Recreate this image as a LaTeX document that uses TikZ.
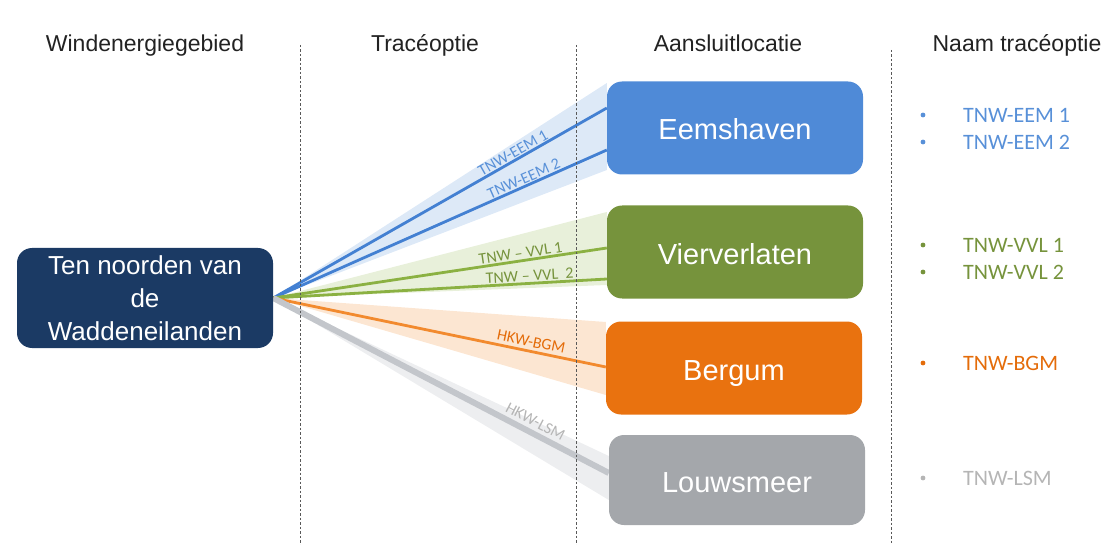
\documentclass[tikz,border=0pt]{standalone}
\usepackage{fontspec}
\setmainfont{Liberation Sans}
\newfontfamily\carl{Carlito}
\usetikzlibrary{calc,backgrounds}
\definecolor{navy}{HTML}{1B3A64}
\definecolor{eembox}{HTML}{4F8AD7}
\definecolor{eemline}{HTML}{4380D2}
\definecolor{eemtext}{HTML}{5890D8}
\definecolor{eemband}{HTML}{DDE9F7}
\definecolor{vvlbox}{HTML}{76933C}
\definecolor{vvlline}{HTML}{8BB142}
\definecolor{vvltext}{HTML}{76933C}
\definecolor{vvlband}{HTML}{E8F0DA}
\definecolor{bgmbox}{HTML}{E9720F}
\definecolor{bgmline}{HTML}{F28A2E}
\definecolor{bgmtext}{HTML}{E46C0A}
\definecolor{bgmband}{HTML}{FCE6D2}
\definecolor{lsmbox}{HTML}{A4A7AB}
\definecolor{lsmline}{HTML}{C3C6CB}
\definecolor{lsmtext}{HTML}{B5B5B5}
\definecolor{lsmband}{HTML}{EDEEF0}
\definecolor{hdrtext}{HTML}{222222}
\begin{document}
\begin{tikzpicture}[x=1pt,y=-1pt,
  box/.style={rounded corners=15pt, minimum width=256pt, minimum height=93pt,
    text=white, font=\fontsize{29}{34}\selectfont, text height=24pt,
    text depth=0pt, inner sep=0pt},
  hdr/.style={anchor=base, font=\fontsize{23}{28}\selectfont, text=hdrtext},
  lbl/.style={sloped, anchor=south, font=\carl\fontsize{16}{18}\selectfont, inner sep=1pt},
  item/.style={anchor=west, font=\carl\fontsize{22}{26}\selectfont, inner sep=0pt},
  route/.style={line width=2.8pt},
  sep/.style={draw=black!65, line width=0.9pt, dash pattern=on 2.5pt off 2pt}]
\useasboundingbox (0,0) rectangle (1110,545);

% headers
\node[hdr] (h1) at (145,52) {Windenergiegebied};
\node[hdr] (h2) at (425,52) {Tracéoptie};
\node[hdr] (h3) at (728,52) {Aansluitlocatie};
\node[hdr] (h4) at (1017,52) {Naam tracéoptie};

% separators
\draw[sep] (300,45) -- (300,545);
\draw[sep] (576,45) -- (576,545);
\draw[sep] (891,50) -- (891,545);

% boxes
\node[box, fill=eembox] (eem) at (735,128) {Eemshaven};
\node[box, fill=vvlbox] (vvl) at (735,252) {Vierverlaten};
\node[box, fill=bgmbox] (bgm) at (734,368) {Bergum};
\node[box, fill=lsmbox, minimum height=90pt] (lsm) at (737,480) {Louwsmeer};
\node[fill=navy, rounded corners=15pt, minimum width=256pt, minimum height=100pt,
  text=white, align=center, font=\fontsize{26}{33}\selectfont, inner sep=0pt]
  (src) at (145,298) {Ten noorden van\\de\\Waddeneilanden};

\begin{scope}[on background layer]
  % bands
  \fill[eemband] (src.east) -- ($(eem.west)+(0,-45)$) -- ($(eem.west)+(0,42)$) -- cycle;
  \fill[vvlband] (src.east) -- ($(vvl.west)+(0,-40)$) -- ($(vvl.west)+(0,33)$) -- cycle;
  \fill[bgmband] (src.east) -- ($(bgm.west)+(0,-46)$) -- ($(bgm.west)+(0,27)$) -- cycle;
  \fill[lsmband] (src.east) -- ($(lsm.west)+(0,-24)$) -- ($(lsm.west)+(0,20)$) -- cycle;
  % routes
  \draw[route, eemline] (src.east) -- node[lbl, pos=0.73, text=eemtext] {TNW-EEM 1} ($(eem.west)+(0,-20)$);
  \draw[route, eemline] (src.east) -- node[lbl, pos=0.76, text=eemtext] {TNW-EEM 2} ($(eem.west)+(0,22)$);
  \draw[route, vvlline] (src.east) -- node[lbl, pos=0.745, text=vvltext] {TNW – VVL 1} ($(vvl.west)+(0,-4)$);
  \draw[route, vvlline] (src.east) -- node[lbl, pos=0.77, text=vvltext] {TNW – VVL\ \ 2} ($(vvl.west)+(0,27)$);
  \draw[route, bgmline] (src.east) -- node[lbl, pos=0.77, text=bgmtext, inner sep=3pt] {HKW-BGM} ($(bgm.west)+(0,-1)$);
  \draw[line width=6pt, lsmline] (src.east) -- node[lbl, pos=0.765, text=lsmtext, inner sep=3.5pt] {HKW-LSM} ($(lsm.west)+(0,-7)$);
\end{scope}

% right column
\fill[eemtext] (923,115) circle (2.4pt);
\node[item, text=eemtext] (n1) at (963,115) {TNW-EEM 1};
\fill[eemtext] (923,142) circle (2.4pt);
\node[item, text=eemtext] (n2) at (963,142) {TNW-EEM 2};
\fill[vvltext] (923,245) circle (2.4pt);
\node[item, text=vvltext] (n3) at (963,245) {TNW-VVL 1};
\fill[vvltext] (923,272) circle (2.4pt);
\node[item, text=vvltext] (n4) at (963,272) {TNW-VVL 2};
\fill[bgmtext] (923,363) circle (2.4pt);
\node[item, text=bgmtext] (n5) at (963,363) {TNW-BGM};
\fill[lsmtext] (923,478) circle (2.4pt);
\node[item, text=lsmtext] (n6) at (963,478) {TNW-LSM};
\end{tikzpicture}
\end{document}
